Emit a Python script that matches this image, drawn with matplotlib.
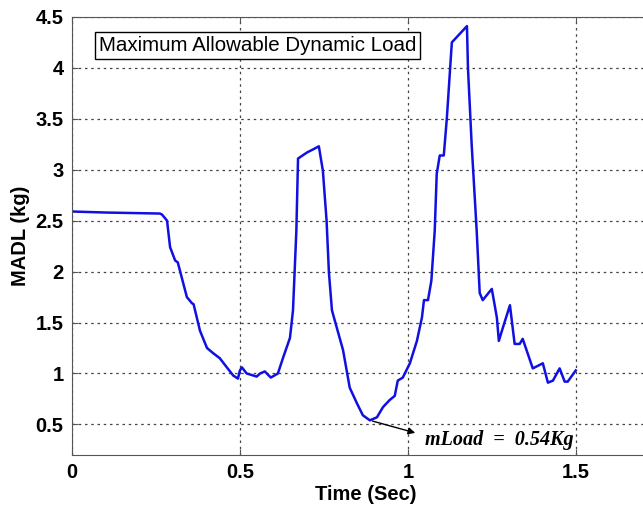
import numpy as np
import matplotlib
matplotlib.use("Agg")
import matplotlib.pyplot as plt

# MADL trace
time_s = [0.0, 0.10, 0.262, 0.268, 0.283, 0.292, 0.307, 0.315, 0.342, 0.357, 0.362,
          0.381, 0.402, 0.42, 0.44, 0.461, 0.48, 0.494, 0.5, 0.506, 0.52, 0.55, 0.56,
          0.574, 0.592, 0.613, 0.628, 0.649, 0.658, 0.668, 0.673, 0.70, 0.718, 0.735,
          0.747, 0.758, 0.765, 0.774, 0.807, 0.827, 0.848, 0.866, 0.887, 0.908, 0.926,
          0.946, 0.961, 0.97, 0.985, 1.006, 1.027, 1.042, 1.048, 1.06, 1.07, 1.08,
          1.086, 1.095, 1.107, 1.116, 1.131, 1.176, 1.179, 1.19, 1.205, 1.214, 1.223,
          1.25, 1.265, 1.271, 1.283, 1.304, 1.318, 1.333, 1.342, 1.372, 1.402, 1.417,
          1.432, 1.452, 1.467, 1.476, 1.5]
madl = [2.59, 2.58, 2.57, 2.56, 2.50, 2.24, 2.11, 2.09, 1.75, 1.69, 1.68,
        1.42, 1.25, 1.20, 1.15, 1.06, 0.98, 0.95, 1.03, 1.06, 1.00, 0.97, 1.00,
        1.02, 0.96, 1.00, 1.15, 1.35, 1.62, 2.40, 3.11, 3.17, 3.20, 3.23,
        2.99, 2.50, 1.99, 1.62, 1.23, 0.86, 0.71, 0.59, 0.54, 0.57, 0.67,
        0.74, 0.78, 0.93, 0.96, 1.10, 1.32, 1.55, 1.72, 1.72, 1.91, 2.40,
        2.96, 3.14, 3.14, 3.50, 4.25, 4.41, 4.00, 3.25, 2.40, 1.79, 1.72,
        1.83, 1.55, 1.32, 1.45, 1.67, 1.29, 1.29, 1.34, 1.05, 1.10, 0.91,
        0.93, 1.05, 0.92, 0.92, 1.03]

min_t, min_load = 0.887, 0.54
xticks = [0, 0.5, 1, 1.5]
yticks = [0.5, 1, 1.5, 2, 2.5, 3, 3.5, 4, 4.5]

plt.rcParams['font.family'] = ['Liberation Sans', 'DejaVu Sans']
plt.rcParams['font.weight'] = 'bold'

fig = plt.figure(figsize=(6.43, 5.07), dpi=100)
ax = fig.add_axes([0.112, 0.1026, 0.914, 0.864])

ax.plot(time_s, madl, color='#1010e0', linewidth=1.8)

ax.set_xlim(0, 1.75)
ax.set_ylim(0.2, 4.5)
ax.set_xticks(xticks)
ax.set_xticklabels(['0', '0.5', '1', '1.5'])
ax.set_yticks(yticks)
ax.set_yticklabels(['0.5', '1', '1.5', '2', '2.5', '3', '3.5', '4', '4.5'])
ax.tick_params(direction='in', length=4, labelsize=14.5, top=True, right=False,
               color='#555555', pad=6)
for s in ax.spines.values():
    s.set_color('#555555')
ax.grid(True, linestyle=(0, (2, 3)), color='#444444', linewidth=0.9)

ax.set_xlabel('Time (Sec)', fontsize=14.5, fontweight='bold', labelpad=2)
ax.set_ylabel('MADL (kg)', fontsize=14.5, fontweight='bold', labelpad=4)

ax.text(0.08, 4.22, 'Maximum Allowable Dynamic Load', fontsize=14.8,
        fontweight='normal', ha='left', va='center',
        bbox=dict(facecolor='white', edgecolor='black', boxstyle='square,pad=0.2',
                  linewidth=1))

ax.annotate('', xy=(1.03, 0.41), xytext=(min_t, min_load),
            arrowprops=dict(arrowstyle='-|>', color='black', lw=1,
                            mutation_scale=10))
ax.text(1.05, 0.35, 'mLoad  =  0.54Kg', fontsize=14.5, style='italic',
        fontweight='bold', family='Liberation Serif', ha='left', va='center')

fig.savefig('out.png', dpi=100)
